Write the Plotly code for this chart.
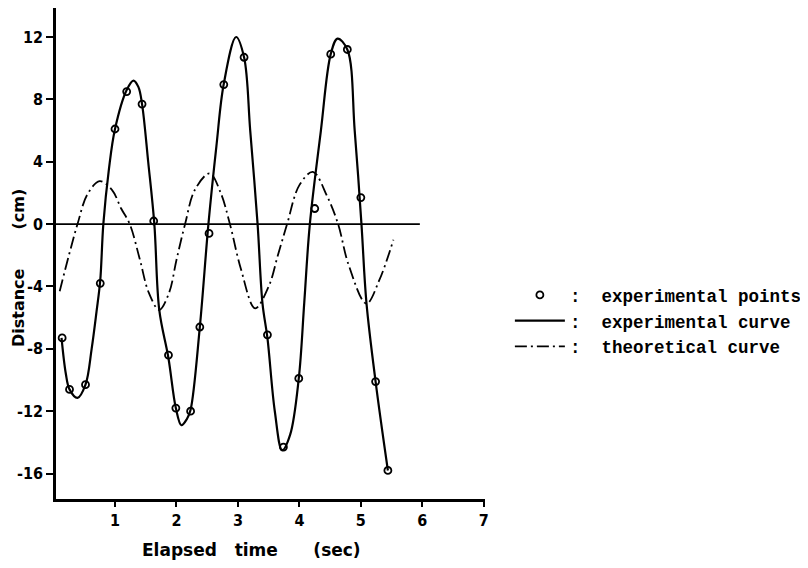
import plotly.graph_objects as go

# Experimental points (time in s, distance in cm)
exp_t = [0.14, 0.26, 0.52, 0.76, 1.00, 1.19, 1.44, 1.63, 1.87, 1.99, 2.23, 2.38,
         2.53, 2.77, 3.10, 3.48, 3.74, 3.99, 4.25, 4.51, 4.78, 5.00, 5.24, 5.44]
exp_d = [-7.3, -10.6, -10.3, -3.8, 6.1, 8.5, 7.7, 0.2, -8.4, -11.8, -12.0, -6.6,
         -0.6, 8.95, 10.7, -7.1, -14.3, -9.9, 1.0, 10.9, 11.2, 1.7, -10.1, -15.8]

# Experimental curve
curve_t = [0.13, 0.20, 0.26, 0.39, 0.52, 0.62, 0.70, 0.76, 0.81, 0.90, 1.00, 1.19,
           1.30, 1.38, 1.44, 1.54, 1.64, 1.72, 1.87, 1.99, 2.08, 2.17, 2.23, 2.38,
           2.52, 2.65, 2.77, 2.97, 3.10, 3.20, 3.32, 3.40, 3.48, 3.60, 3.72, 3.85,
           3.99, 4.08, 4.17, 4.35, 4.51, 4.62, 4.78, 4.90, 5.01, 5.09, 5.24, 5.44]
curve_d = [-7.3, -9.6, -10.6, -11.15, -10.3, -8.0, -5.6, -3.6, 0.0, 3.5, 6.1, 8.6,
           9.2, 8.8, 7.7, 4.0, 0.0, -5.5, -8.6, -11.8, -12.9, -12.5, -11.9, -6.6,
           0.0, 5.0, 9.0, 12.0, 10.7, 6.0, 0.0, -5.1, -7.3, -12.0, -14.5, -13.5,
           -9.9, -5.0, 0.0, 6.0, 10.9, 11.9, 11.2, 6.0, 0.0, -5.0, -10.1, -15.8]

# Theoretical curve
theo_t = [0.10, 0.25, 0.39, 0.55, 0.75, 0.95, 1.10, 1.24, 1.40, 1.55, 1.72, 1.88,
          2.00, 2.14, 2.30, 2.54, 2.72, 2.87, 3.05, 3.28, 3.50, 3.65, 3.80, 4.00,
          4.22, 4.45, 4.63, 4.80, 5.09, 5.30, 5.53]
theo_d = [-4.3, -2.0, 0.0, 1.9, 2.75, 2.2, 1.0, 0.0, -2.2, -4.4, -5.5, -4.4,
          -2.3, 0.0, 2.2, 3.25, 2.0, 0.0, -2.9, -5.4, -4.0, -2.0, 0.0, 2.5,
          3.35, 1.8, 0.0, -2.6, -5.1, -3.6, -1.0]

zero_line_t = [0.04, 5.96]

x_ticks = [1, 2, 3, 4, 5, 6, 7]
y_ticks = [-16, -12, -8, -4, 0, 4, 8, 12]

legend_names = [":  experimental points", ":  experimental curve", ":  theoretical curve"]
x_title = "Elapsed   time      (sec)"
y_title = "Distance       (cm)"

fig = go.Figure()

fig.add_shape(type="line", xref="x", yref="y",
              x0=zero_line_t[0], x1=zero_line_t[1], y0=0, y1=0,
              line=dict(color="black", width=1.6))

fig.add_trace(go.Scatter(
    x=exp_t, y=exp_d, mode="markers", name=legend_names[0], legendgroup="a",
    marker=dict(symbol="circle-open", size=7, color="black", line=dict(width=1.8)),
))
fig.add_trace(go.Scatter(
    x=curve_t, y=curve_d, mode="lines", name=legend_names[1], legendgroup="b",
    line=dict(color="black", width=2.2, shape="spline", smoothing=1.0),
))
fig.add_trace(go.Scatter(
    x=theo_t, y=theo_d, mode="lines", name=legend_names[2], legendgroup="c",
    line=dict(color="black", width=1.8, dash="12px,4px,2px,4px", shape="spline", smoothing=1.0),
))

tick_font = dict(family="DejaVu Sans Condensed, Liberation Sans", size=16, color="black", weight="bold")

# plot area: screen x 56..485, screen y 8..499 (page has an 8px body margin)
fig.update_layout(
    width=808, height=568,
    margin=dict(l=48, r=331, t=0, b=77),
    paper_bgcolor="white", plot_bgcolor="white",
    showlegend=True,
    legend=dict(
        x=1.058, y=0.452, xanchor="left", yanchor="top",
        font=dict(family="Liberation Mono", size=17.5, color="black", weight="bold"),
        tracegroupgap=0, itemwidth=50, bgcolor="rgba(0,0,0,0)",
    ),
    xaxis=dict(
        range=[0.04, 7.02], tickvals=x_ticks, ticktext=[str(v) for v in x_ticks],
        showgrid=False, zeroline=False, showline=True, linecolor="black", linewidth=2.5,
        ticks="outside", ticklen=5, tickwidth=2, tickcolor="black", tickfont=tick_font,
    ),
    yaxis=dict(
        range=[-17.63, 13.86], tickvals=y_ticks, ticktext=[str(v) for v in y_ticks],
        showgrid=False, zeroline=False, showline=True, linecolor="black", linewidth=2.5,
        ticks="outside", ticklen=7, tickwidth=2, tickcolor="black", tickfont=tick_font,
    ),
    annotations=[
        dict(text=x_title, xref="paper", yref="paper",
             x=(251 - 56) / 429, y=-(550 - 499) / 491, xanchor="center", yanchor="middle",
             showarrow=False, font=dict(family="DejaVu Sans", size=17, color="black", weight="bold")),
        dict(text=y_title, xref="paper", yref="paper",
             x=-(56 - 18) / 429, y=(499 - 268) / 491, xanchor="center", yanchor="middle", textangle=-90,
             showarrow=False, font=dict(family="DejaVu Sans", size=16, color="black", weight="bold")),
    ],
)

fig.write_html("out.html")
